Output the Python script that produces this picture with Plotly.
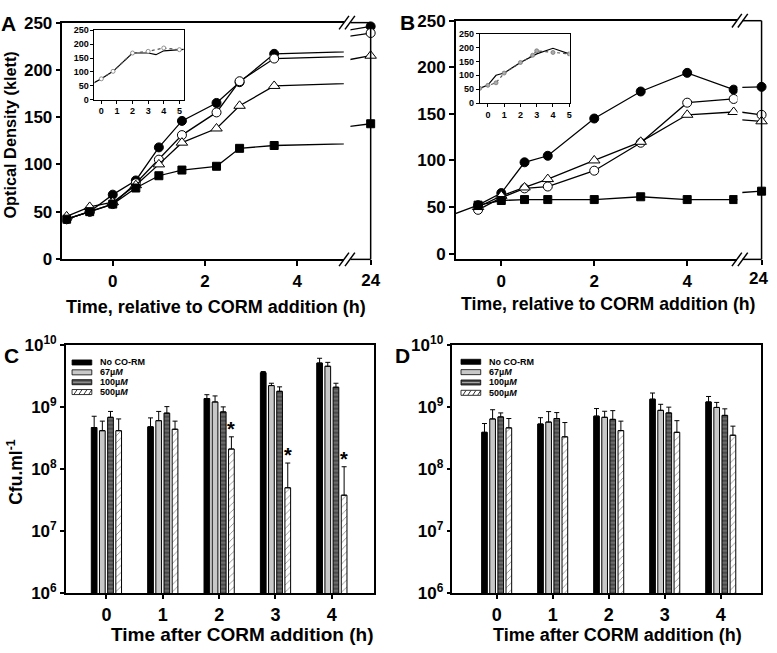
import plotly.graph_objects as go
import numpy as np

W, H = 777, 653
FONT = "Liberation Sans, Arial, Helvetica, sans-serif"

# ---------------- Data ----------------
# Panel A: optical density (klett)
A_time = [-1, -0.5, 0, 0.5, 1, 1.5, 2.25, 2.75, 3.5, 24]
A_none = [42, 50, 68, 83, 118, 146, 165, 187, 217, 246]
A_67 = [42, 50, 58, 80, 105, 131, 155, 188, 212, 239]
A_100 = [45, 55, 60, 78, 100, 123, 138, 162, 183, 215]
A_500 = [42, 50, 58, 75, 88, 94, 98, 117, 120, 143]

# Panel A inset
A_in_t1 = [-0.5, 0, 0.75, 2, 3, 3.5, 4, 5, 5.5]
A_in_v1 = [60, 75, 102, 168, 168, 162, 176, 179, 182]
A_in_t2 = [0, 0.75, 2, 3, 4, 5]
A_in_v2 = [75, 102, 168, 174, 186, 180]

# Panel B: optical density (klett)
B_time = [-0.5, 0, 0.5, 1, 2, 3, 4, 5, 24]
B_none = [52, 65, 98, 105, 145, 174, 194, 176, 179]
B_67 = [47, 60, 70, 72, 89, 119, 162, 166, 149]
B_100 = [50, 62, 71, 80, 100, 120, 149, 152, 142]
B_500_time = [-1.25, -0.5, 0, 0.5, 1, 2, 3, 4, 5, 24]
B_500 = [38, 52, 57, 58, 58, 58, 61, 58, 58, 67]

# Panel B inset
B_in_t1 = [-0.5, 0, 0.5, 1, 2, 3, 4, 5]
B_in_v1 = [53, 65, 100, 108, 146, 177, 197, 177]
B_in_t2 = [-0.5, 0, 0.5, 1, 2, 2.75, 3, 4, 5]
B_in_v2 = [53, 64, 73, 108, 146, 172, 188, 182, 177]

# Panels C, D: Cfu/ml
cfu_time = [0, 1, 2, 3, 4]
conc_labels = ["No CO-RM", "67\u00b5<i>M</i>", "100\u00b5<i>M</i>", "500\u00b5<i>M</i>"]

C_none = [4.66e8, 4.78e8, 1.36e9, 3.55e9, 5.07e9]
C_none_up = [7.07e8, 6.65e8, 1.57e9, 3.70e9, 6.05e9]
C_67 = [4.14e8, 6.0e8, 1.2e9, 2.2e9, 4.5e9]
C_67_up = [5.9e8, 8.45e8, 1.5e9, 2.4e9, 5.2e9]
C_100 = [6.8e8, 7.94e8, 8.3e8, 1.78e9, 2.07e9]
C_100_up = [8.45e8, 1.01e9, 1.0e9, 2.1e9, 2.4e9]
C_500 = [4.14e8, 4.37e8, 2.1e8, 5.0e7, 3.8e7]
C_500_up = [6.4e8, 5.9e8, 3.3e8, 1.25e8, 1.09e8]
C_sig = [2, 3, 4]  # time points with asterisk on 500 uM

D_none = [3.9e8, 5.3e8, 7.1e8, 1.33e9, 1.2e9]
D_none_up = [5.4e8, 6.7e8, 9.4e8, 1.67e9, 1.47e9]
D_67 = [6.4e8, 5.7e8, 6.8e8, 8.8e8, 9.8e8]
D_67_up = [9.0e8, 8.4e8, 8.5e8, 1.1e9, 1.18e9]
D_100 = [6.9e8, 6.5e8, 6.3e8, 8.0e8, 7.3e8]
D_100_up = [8.0e8, 8.1e8, 8.7e8, 9.9e8, 9.3e8]
D_500 = [4.6e8, 3.3e8, 4.15e8, 3.9e8, 3.5e8]
D_500_up = [6.5e8, 5.6e8, 5.9e8, 6.0e8, 4.9e8]

y_ticks_lin = [0, 50, 100, 150, 200, 250]
late_tick = [24]
log_tickvals = [1e6, 1e7, 1e8, 1e9, 1e10]
log_ticktext = ["10<sup>6</sup>", "10<sup>7</sup>", "10<sup>8</sup>", "10<sup>9</sup>", "10<sup>10</sup>"]

# ---------------- Layout geometry (pixels) ----------------
A_MAIN_X = (63.3, 348.3)
A_LATE_X = (355, 375.5)
A_Y = (11, 256)
B_MAIN_X = (461.7, 747)
B_LATE_X = (752, 771.5)
B_Y = (9, 256)


def px_x(p):
    return p / W


def px_y(p):
    return 1 - p / H


def dom_x(a, b):
    return [px_x(a), px_x(b)]


def dom_y(top, bottom):
    return [px_y(bottom), px_y(top)]


def ax(**kw):
    d = dict(showline=True, linecolor="black", linewidth=1.5, showgrid=False, zeroline=False,
             ticks="outside", ticklen=5, tickwidth=1.5, tickcolor="black",
             tickfont=dict(family=FONT, size=17, color="black", weight="bold"))
    d.update(kw)
    return d


small_font = dict(family=FONT, size=9, color="black", weight="bold")

fig = go.Figure()

line_styles = [
    dict(symbol="circle", size=9, color="black", line=dict(color="black", width=1)),
    dict(symbol="circle", size=9, color="white", line=dict(color="black", width=1)),
    dict(symbol="triangle-up", size=10, color="white", line=dict(color="black", width=1)),
    dict(symbol="square", size=8, color="black", line=dict(color="black", width=1)),
]


def add_growth(series, xa, ya, xa2, ya2):
    for (t, v), st in zip(series, line_styles):
        fig.add_trace(go.Scatter(x=t, y=v, mode="lines+markers", marker=st,
                                 line=dict(color="black", width=1.3),
                                 xaxis=xa, yaxis=ya, showlegend=False))
        fig.add_trace(go.Scatter(x=t[-2:], y=v[-2:], mode="lines",
                                 line=dict(color="black", width=1.3),
                                 xaxis=xa2, yaxis=ya2, showlegend=False))
        fig.add_trace(go.Scatter(x=t[-1:], y=v[-1:], mode="markers", marker=st,
                                 cliponaxis=False, xaxis=xa2, yaxis=ya2, showlegend=False))


add_growth([(A_time, A_none), (A_time, A_67), (A_time, A_100), (A_time, A_500)],
           "x", "y", "x2", "y2")
add_growth([(B_time, B_none), (B_time, B_67), (B_time, B_100), (B_500_time, B_500)],
           "x4", "y4", "x5", "y5")


def add_inset(t1, v1, t2, v2, xa, ya, mcolor):
    fig.add_trace(go.Scatter(x=t1, y=v1, mode="lines", line=dict(color="black", width=1.2),
                             xaxis=xa, yaxis=ya, showlegend=False))
    fig.add_trace(go.Scatter(x=t2, y=v2, mode="lines+markers",
                             line=dict(color="#555555", width=1.2, dash="dot"),
                             marker=dict(symbol="circle", size=4, color=mcolor,
                                         line=dict(color="#777777", width=0.8)),
                             xaxis=xa, yaxis=ya, showlegend=False))


add_inset(A_in_t1, A_in_v1, A_in_t2, A_in_v2, "x3", "y3", "white")
add_inset(B_in_t1, B_in_v1, B_in_t2, B_in_v2, "x6", "y6", "#aaaaaa")

bar_styles = [
    dict(color="black", line=dict(color="black", width=1)),
    dict(color="#c8c8c8", line=dict(color="black", width=1)),
    dict(color="#505050", line=dict(color="black", width=1),
         pattern=dict(shape="-", fgcolor="#a8a8a8", bgcolor="#4a4a4a", size=4, solidity=0.35)),
    dict(color="white", line=dict(color="black", width=1),
         pattern=dict(shape="/", fgcolor="black", bgcolor="white", size=5, solidity=0.15)),
]

BARGAP = 0.42
BARGROUPGAP = 0.3


def add_bars(groups, xa, ya):
    for i, ((vals, ups), st) in enumerate(zip(groups, bar_styles)):
        fig.add_trace(go.Bar(
            x=cfu_time, y=vals, marker=st, xaxis=xa, yaxis=ya, showlegend=False,
            error_y=dict(type="data", symmetric=False,
                         array=[u - v for u, v in zip(ups, vals)],
                         arrayminus=[0] * len(vals), color="black", thickness=1, width=2.5)))


add_bars([(C_none, C_none_up), (C_67, C_67_up), (C_100, C_100_up), (C_500, C_500_up)], "x7", "y7")
add_bars([(D_none, D_none_up), (D_67, D_67_up), (D_100, D_100_up), (D_500, D_500_up)], "x8", "y8")

# ---------------- Axes ----------------
layout_axes = dict(
    # A main
    xaxis=ax(domain=dom_x(*A_MAIN_X), range=[-1.09, 5.01], tick0=0, dtick=2, anchor="y", mirror=True),
    yaxis=ax(domain=dom_y(*A_Y), range=[-0.5, 250], tickvals=y_ticks_lin, anchor="x"),
    # A after break (frame drawn with shapes)
    xaxis2=ax(domain=dom_x(*A_LATE_X), range=[21.5, 24], tickvals=late_tick, anchor="y2",
              showline=False, ticklabeloverflow="allow"),
    yaxis2=ax(domain=dom_y(*A_Y), range=[-0.5, 250], anchor="x2", side="right", ticks="",
              showticklabels=False, showline=False),
    # A inset
    xaxis3=ax(domain=dom_x(95.7, 186), range=[-0.44, 5.27], dtick=1, tick0=0, anchor="y3", mirror=True,
              linewidth=1, ticklen=3, tickwidth=1, tickfont=small_font),
    yaxis3=ax(domain=dom_y(18.3, 90.7), range=[0, 252], tickvals=y_ticks_lin, anchor="x3", mirror=True,
              linewidth=1, ticklen=3, tickwidth=1, tickfont=small_font),
    # B main
    xaxis4=ax(domain=dom_x(*B_MAIN_X), range=[-0.98, 5.08], tick0=0, dtick=2, anchor="y4", mirror=True),
    yaxis4=ax(domain=dom_y(*B_Y), range=[-6.2, 250], tickvals=y_ticks_lin, anchor="x4"),
    # B after break
    xaxis5=ax(domain=dom_x(*B_LATE_X), range=[21, 24], tickvals=late_tick, anchor="y5",
              showline=False, showticklabels=False),
    yaxis5=ax(domain=dom_y(*B_Y), range=[-6.2, 250], anchor="x5", side="right", ticks="",
              showticklabels=False, showline=False),
    # B inset
    xaxis6=ax(domain=dom_x(486, 577), range=[-0.5, 5.02], dtick=1, tick0=0, anchor="y6", mirror=True,
              linewidth=1, ticklen=3, tickwidth=1, tickfont=small_font),
    yaxis6=ax(domain=dom_y(22.3, 94.3), range=[0, 250], tickvals=y_ticks_lin, anchor="x6", mirror=True,
              linewidth=1, ticklen=3, tickwidth=1, tickfont=small_font),
    # C
    xaxis7=ax(domain=dom_x(66.7, 379), range=[-0.72, 4.75], tickvals=cfu_time, anchor="y7", mirror=True,
              ticklen=4, tickfont=dict(family=FONT, size=18, color="black", weight="bold")),
    yaxis7=ax(domain=dom_y(344.3, 601.7), type="log", range=[6, 10], tickvals=log_tickvals,
              ticktext=log_ticktext, anchor="x7", mirror=True, ticklen=4),
    # D
    xaxis8=ax(domain=dom_x(458.3, 771), range=[-0.79, 4.72], tickvals=cfu_time, anchor="y8", mirror=True,
              ticklen=4, tickfont=dict(family=FONT, size=18, color="black", weight="bold")),
    yaxis8=ax(domain=dom_y(344.3, 601.7), type="log", range=[6, 10], tickvals=log_tickvals,
              ticktext=log_ticktext, anchor="x8", mirror=True, ticklen=4),
)

# ---------------- Shapes (axis breaks, frames, legends) ----------------
shapes = []


def pline(x0, y0, x1, y1, width=1.5, color="black"):
    shapes.append(dict(type="line", xref="paper", yref="paper",
                       x0=px_x(x0), y0=px_y(y0), x1=px_x(x1), y1=px_y(y1),
                       line=dict(color=color, width=width)))


def late_frame(xr, yr):
    (xa, xb), (yt, yb) = xr, yr
    pline(xa, yt, xb, yt)
    pline(xa, yb, xb, yb)
    pline(xb, yt, xb, yb)


late_frame(A_LATE_X, A_Y)
late_frame(B_LATE_X, B_Y)


def break_marks(cx, cy):
    for off in (-3, 3):
        pline(cx + off - 5, cy + 7, cx + off + 5, cy - 7)


break_marks(351.5, A_Y[0])
break_marks(351.5, A_Y[1])
break_marks(749.5, B_Y[0])
break_marks(749.5, B_Y[1])

annotations = []

swatch_fill = ["black", "#c8c8c8", "#4a4a4a", "white"]


def legend(x0, y0, step):
    for i, lab in enumerate(conc_labels):
        yc = y0 + i * step
        shapes.append(dict(type="rect", xref="paper", yref="paper",
                           x0=px_x(x0), x1=px_x(x0 + 20), y0=px_y(yc + 2.6), y1=px_y(yc - 2.6),
                           fillcolor=swatch_fill[i], line=dict(color="black", width=0.8)))
        if i == 2:
            pline(x0 + 1, yc, x0 + 19, yc, width=1, color="#aaaaaa")
        if i == 3:
            for k in range(4):
                pline(x0 + 2 + 5 * k, yc + 2.3, x0 + 5 + 5 * k, yc - 2.3, width=0.8)
        annotations.append(dict(text=lab, xref="paper", yref="paper", x=px_x(x0 + 26), y=px_y(yc),
                                xanchor="left", yanchor="middle", showarrow=False, font=small_font))


legend(73, 362.7, 10.2)
legend(467, 362, 10.7)


# ---------------- Text ----------------
def note(text, x, y, size, angle=0):
    annotations.append(dict(text=text, xref="paper", yref="paper", x=px_x(x), y=px_y(y),
                            xanchor="center", yanchor="middle", showarrow=False, textangle=angle,
                            font=dict(family=FONT, size=size, color="black", weight="bold")))


note("A", 8.5, 12, 21)
note("B", 413, 11, 21)
note("C", 12, 355, 21)
note("D", 408, 355, 21)
note("Optical Density (klett)", 10, 127, 16.3, -90)
note("Time, relative to CORM addition (h)", 219, 305, 18)
note("Time, relative to CORM addition (h)", 616, 302, 17.7)
note("Cfu.ml<sup>-1</sup>", 15, 476, 17.5, -90)
note("Time after CORM addition (h)", 245, 644.5, 19)
note("Time after CORM addition (h)", 626, 644.5, 18)

# "24" label for panel B's post-break axis (kept inside the page)
annotations.append(dict(text=str(late_tick[0]), xref="x5", yref="paper", x=late_tick[0],
                        y=px_y(B_Y[1] + 8), xanchor="center", yanchor="top", xshift=-3,
                        showarrow=False, font=dict(family=FONT, size=17, color="black", weight="bold")))

slot = (1 - BARGAP) / 4
for t in C_sig:
    idx = cfu_time.index(t)
    annotations.append(dict(text="*", xref="x7", yref="y7", x=t + 1.5 * slot,
                            y=float(np.log10(C_500_up[idx])), xanchor="center", yanchor="middle",
                            yshift=8, showarrow=False,
                            font=dict(family=FONT, size=20, color="black", weight="bold")))

fig.update_layout(
    width=W, height=H, autosize=False,
    margin=dict(l=0, r=0, t=0, b=0),
    paper_bgcolor="white", plot_bgcolor="white",
    barmode="group", bargap=BARGAP, bargroupgap=BARGROUPGAP,
    font=dict(family=FONT, color="black"),
    showlegend=False,
    shapes=shapes, annotations=annotations,
    **layout_axes,
)

# remove the default page margin so the 777x653 figure fills the window exactly
fig.write_html("out.html", config={"displayModeBar": False},
               post_script="document.body.style.margin='0';document.body.style.overflow='hidden';")
